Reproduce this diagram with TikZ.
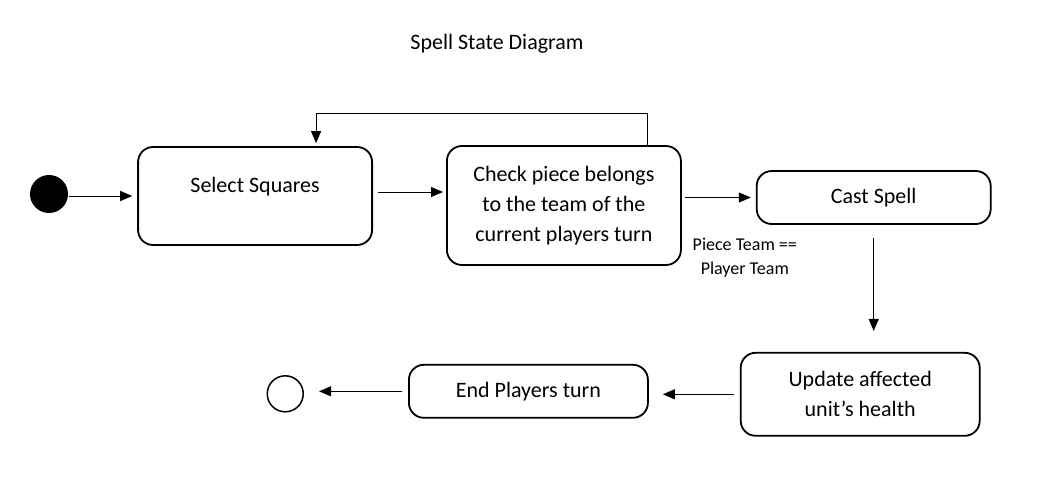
\documentclass[tikz,border=0pt]{standalone}
\usepackage{fontspec}
\setmainfont{Carlito}
\usetikzlibrary{positioning,arrows.meta}

\begin{document}
\begin{tikzpicture}
[x=1pt,y=1pt,>={Triangle[length=12pt,width=10pt]},
state/.style={draw, line width=1.8pt, rounded corners=15pt, minimum width=234pt,
  align=center, font=\fontsize{22}{30}\selectfont},
trans/.style={->, line width=1pt},
guard/.style={align=center, font=\fontsize{18}{24}\selectfont}]
\useasboundingbox (0,0) rectangle (1060,-503);

\node[font=\fontsize{22}{30}\selectfont] (ttl) at (497,-44) {Spell State Diagram};

\node[circle, fill=black, minimum size=38pt, inner sep=0pt] (start) at (49,-194) {};

\node[state, minimum height=98pt, text depth=23pt, right=69pt of start, yshift=-2pt] (sel) {Select Squares};
\node[state, minimum height=119pt, right=73pt of sel, yshift=-9.5pt] (chk) {Check piece belongs\\to the team of the\\current players turn};
\node[state, minimum height=53pt, right=74pt of chk, yshift=8pt] (cast) {Cast Spell};
\node[guard] (grd) at ([xshift=-11pt,yshift=-33pt]cast.south west) {Piece Team ==\\Player Team};

\node[state, minimum width=239pt, minimum height=83pt, below=127pt of cast, xshift=-13.5pt] (upd) {Update affected\\unit’s health};
\node[state, minimum width=239pt, minimum height=53pt, left=91pt of upd, yshift=3pt] (endt) {End Players turn};
\node[circle, draw, line width=1.5pt, minimum size=36pt, inner sep=0pt, left=104pt of endt, yshift=-2.5pt] (stop) {};

\draw[trans, shorten <=1pt, shorten >=5pt] (start.east |- sel.west) -- (sel.west);
\draw[trans, shorten <=5pt, shorten >=3pt] ([yshift=4pt]sel.east) -- ([yshift=4pt]sel.east -| chk.west);
\draw[trans, shorten <=3pt, shorten >=5pt] (chk.east |- cast.west) -- (cast.west);
\draw[trans, shorten >=3pt] ([xshift=84pt]chk.north) |- ([xshift=61pt,yshift=33pt]sel.north) -- ([xshift=61pt]sel.north);
\draw[trans, shorten <=13pt, shorten >=21pt] (cast.south) -- (cast.south |- upd.north);
\draw[trans, shorten <=6pt, shorten >=14pt] (upd.west) -- (upd.west -| endt.east);
\draw[trans, shorten <=6pt, shorten >=15pt] (endt.west) -- (endt.west -| stop.east);
\end{tikzpicture}
\end{document}
